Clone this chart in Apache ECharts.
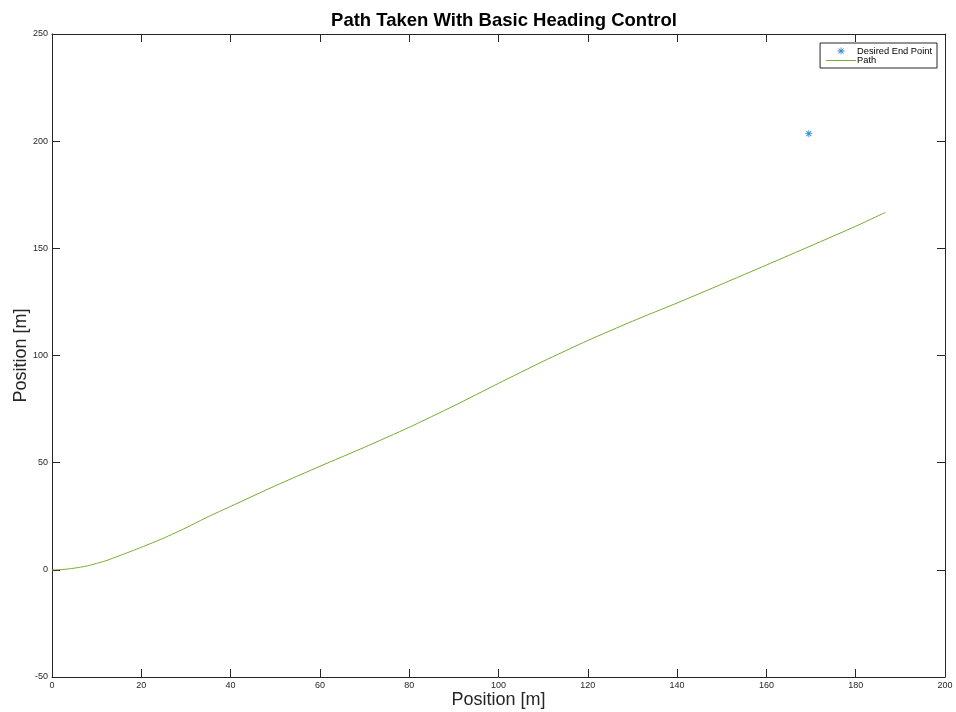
<!DOCTYPE html>
<html>
<head>
<meta charset="utf-8">
<title>Path Taken With Basic Heading Control</title>
<script src="https://cdn.jsdelivr.net/npm/echarts@6/dist/echarts.min.js"></script>
<style>
  html, body { margin: 0; padding: 0; background: #fff; }
  #chart { width: 956px; height: 712px; }
</style>
</head>
<body>
<div id="chart"></div>
<script>
// Vehicle path (x, y in metres)
const pathX = [0, 2, 4, 6, 8, 10, 12, 15, 20, 25, 30, 35, 40, 50, 60, 70, 80, 90, 100, 110, 120, 130, 140, 150, 160, 170, 180, 186.7];
const pathY = [0, 0.1, 0.5, 1.1, 1.9, 3.0, 4.2, 6.5, 10.5, 14.8, 19.6, 24.8, 29.6, 39.2, 48.3, 57.2, 66.5, 76.5, 87.0, 97.3, 107.0, 116.0, 124.5, 133.3, 142.2, 151.2, 160.3, 166.8];

// Target location
const endPoint = [169.5, 203.5];

// Axis ranges and tick steps
const xRange = [0, 200], xStep = 20;
const yRange = [-50, 250], yStep = 50;

const pathData = pathX.map((x, i) => [x, pathY[i]]);

// Asterisk marker built from four bars
const asteriskBody = 'M44 0L56 0L56 100L44 100Z M0 44L100 44L100 56L0 56Z M10 19L19 10L90 81L81 90Z M81 10L90 19L19 90L10 81Z';
const asterisk = 'path://' + asteriskBody;
// Same glyph with empty padding so the legend draws it smaller
const asteriskIcon = 'path://M-20 -20L-20 -20Z M120 120L120 120Z ' + asteriskBody;
const lineIcon = 'path://M0 0L100 0L100 3.5L0 3.5Z';

const axisColor = '#262626';
const font = '"Liberation Sans", Arial, Helvetica, sans-serif';

function makeAxis(pos, range, step, withLabels, extra) {
  return Object.assign({
    type: 'value',
    position: pos,
    min: range[0],
    max: range[1],
    interval: step,
    splitLine: { show: false },
    axisLine: { show: true, onZero: false, lineStyle: { color: axisColor, width: 1 } },
    axisTick: { show: true, inside: true, length: 8, lineStyle: { color: axisColor, width: 1 } },
    axisLabel: { show: withLabels, color: '#262626', fontSize: 9, fontFamily: font, margin: 4 }
  }, extra || {});
}

const chart = echarts.init(document.getElementById('chart'));
chart.setOption({
  animation: false,
  backgroundColor: '#fff',
  title: {
    text: 'Path Taken With Basic Heading Control',
    left: 499, top: 6, textAlign: 'center',
    textStyle: { fontFamily: font, fontWeight: 'bold', fontSize: 18.5, color: '#000' }
  },
  grid: { left: 52, right: 11, top: 34, bottom: 35, containLabel: false, outerBoundsMode: 'none' },
  legend: {
    orient: 'vertical',
    right: 19, top: 43,
    padding: [3, 5, 3, 6],
    itemGap: 0,
    itemWidth: 30,
    itemHeight: 10,
    borderColor: axisColor,
    borderWidth: 1,
    backgroundColor: '#fff',
    borderRadius: 0,
    textStyle: { fontFamily: font, fontSize: 9.3, color: '#000', padding: [0, 0, 0, -4] },
    data: [
      { name: 'Desired End Point', icon: asteriskIcon },
      { name: 'Path', icon: lineIcon }
    ]
  },
  xAxis: [
    makeAxis('bottom', xRange, xStep, true, {
      name: 'Position [m]', nameLocation: 'middle', nameGap: 14, nameMoveOverlap: false,
      nameTextStyle: { fontFamily: font, fontSize: 18, color: '#262626' }
    }),
    makeAxis('top', xRange, xStep, false)
  ],
  yAxis: [
    makeAxis('left', yRange, yStep, true, {
      name: 'Position [m]', nameLocation: 'middle', nameGap: 22, nameMoveOverlap: false,
      nameTextStyle: { fontFamily: font, fontSize: 18, color: '#262626' }
    }),
    makeAxis('right', yRange, yStep, false)
  ],
  series: [
    {
      name: 'Desired End Point',
      type: 'scatter',
      data: [endPoint],
      symbol: asterisk,
      symbolSize: 7,
      itemStyle: { color: '#0072BD' }
    },
    {
      name: 'Path',
      type: 'line',
      data: pathData,
      showSymbol: false,
      symbol: 'none',
      smooth: 0.2,
      lineStyle: { color: '#77AC30', width: 1 },
      itemStyle: { color: '#77AC30' }
    }
  ]
});
</script>
</body>
</html>
